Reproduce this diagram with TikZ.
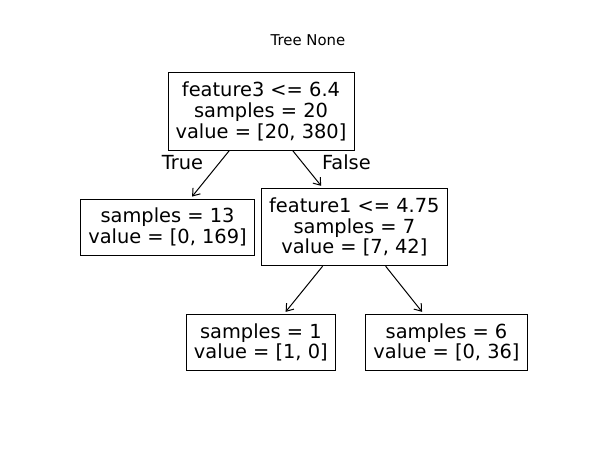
\documentclass[tikz,border=0pt]{standalone}
\usepackage{fontspec}
\setmainfont{DejaVu Sans}
\usetikzlibrary{arrows.meta}
\tikzset{
  treebox/.style={draw=black, line width=1pt, inner sep=0pt, align=center,
    font=\fontsize{19.4}{20.8}\selectfont},
  edgelbl/.style={anchor=base, inner sep=0pt, font=\fontsize{19.4}{20.8}\selectfont},
  arr/.style={line width=1pt, -{Straight Barb[length=6.5pt,width=9.5pt]}, shorten >=2.5pt}
}
\begin{document}
\begin{tikzpicture}[x=1pt,y=-1pt]
\useasboundingbox (0,0) rectangle (600,450);
\node[anchor=base, inner sep=0pt, font=\fontsize{14.9}{17}\selectfont] (title) at (308,45.7) {Tree None};
\node[treebox, minimum width=186pt, minimum height=77.3pt] (root) at (261,111.35)
  {feature3 <= 6.4\\samples = 20\\value = [20, 380]};
\node[treebox, minimum width=173.6pt, minimum height=56pt] (left) at (167.5,227)
  {samples = 13\\value = [0, 169]};
\node[treebox, minimum width=186.7pt, minimum height=77.4pt] (right) at (354.35,227)
  {feature1 <= 4.75\\samples = 7\\value = [7, 42]};
\node[treebox, minimum width=149.7pt, minimum height=56.4pt] (leafa) at (260.85,342.5)
  {samples = 1\\value = [1, 0]};
\node[treebox, minimum width=161.6pt, minimum height=56.4pt] (leafb) at (446.5,342.5)
  {samples = 6\\value = [0, 36]};
\draw[arr] (root) -- (left);
\draw[arr] (root) -- (right);
\draw[arr] (right) -- (leafa);
\draw[arr] (right) -- (leafb);
\node[edgelbl] (truelbl) at (182.5,169.5) {True};
\node[edgelbl] (falselbl) at (346.4,169.8) {False};
\end{tikzpicture}
\end{document}
